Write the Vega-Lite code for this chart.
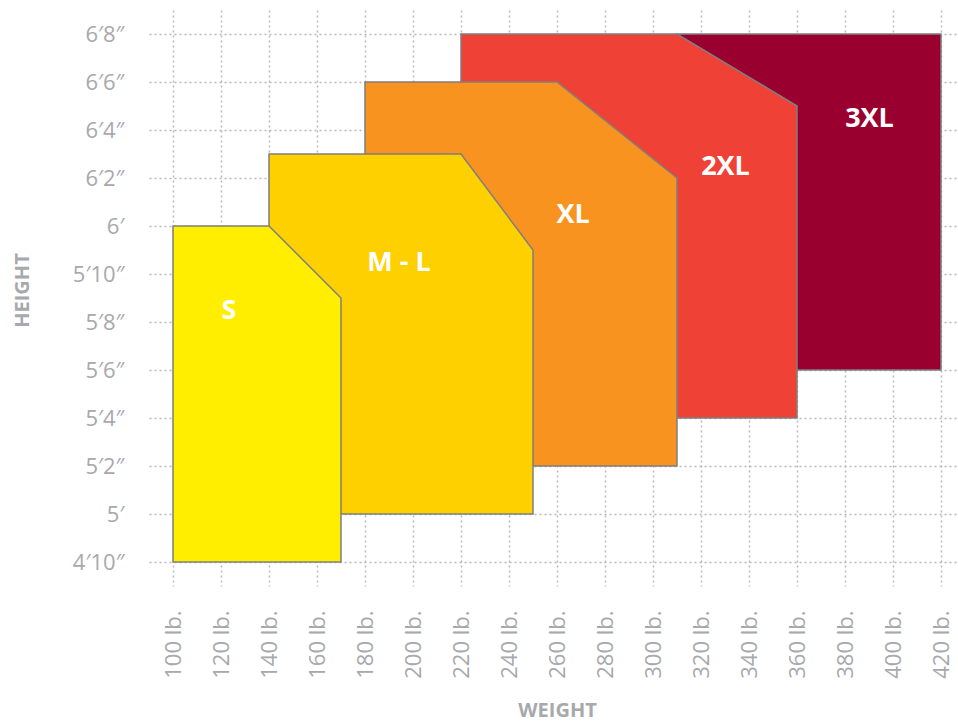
{
  "$schema": "https://vega.github.io/schema/vega-lite/v6.json",
  "autosize": {"type": "none"},
  "width": 809,
  "height": 576,
  "padding": {"left": 149, "top": 10, "right": 0, "bottom": 138},
  "background": "white",
  "config": {
    "view": {"stroke": null},
    "font": "Open Sans",
    "axis": {
      "zindex": 1,
      "grid": true,
      "gridColor": "#b8b8b8",
      "gridDash": [2, 3],
      "gridWidth": 1.5,
      "domain": false,
      "ticks": false,
      "labelColor": "#a7a9ac",
      "labelFont": "Open Sans",
      "labelFontSize": 22,
      "titleColor": "#a7a9ac",
      "titleFont": "Open Sans",
      "titleFontWeight": "bold",
      "titleFontSize": 20
    }
  },
  "datasets": {
    "shapes": [
      {"size": "S", "weight": 100, "top": 72, "bottom": 58},
      {"size": "S", "weight": 140, "top": 72, "bottom": 58},
      {"size": "S", "weight": 170, "top": 69, "bottom": 58},
      {"size": "M - L", "weight": 140, "top": 75, "bottom": 60},
      {"size": "M - L", "weight": 220, "top": 75, "bottom": 60},
      {"size": "M - L", "weight": 250, "top": 71, "bottom": 60},
      {"size": "XL", "weight": 180, "top": 78, "bottom": 62},
      {"size": "XL", "weight": 260, "top": 78, "bottom": 62},
      {"size": "XL", "weight": 310, "top": 74, "bottom": 62},
      {"size": "2XL", "weight": 220, "top": 80, "bottom": 64},
      {"size": "2XL", "weight": 310, "top": 80, "bottom": 64},
      {"size": "2XL", "weight": 360, "top": 77, "bottom": 64},
      {"size": "3XL", "weight": 310, "top": 80, "bottom": 66},
      {"size": "3XL", "weight": 420, "top": 80, "bottom": 66}
    ],
    "labels": [
      {"size": "S", "weight": 123.3, "height": 68.46},
      {"size": "M - L", "weight": 194.2, "height": 70.46},
      {"size": "XL", "weight": 266.7, "height": 72.46},
      {"size": "2XL", "weight": 330.2, "height": 74.46},
      {"size": "3XL", "weight": 390.2, "height": 76.46}
    ]
  },
  "encoding": {
    "x": {
      "field": "weight",
      "type": "quantitative",
      "scale": {"domain": [90, 427.083], "nice": false, "zero": false},
      "axis": {
        "values": [100, 120, 140, 160, 180, 200, 220, 240, 260, 280, 300, 320, 340, 360, 380, 400, 420],
        "labelExpr": "datum.value + ' lb.'",
        "labelAngle": -90,
        "labelPadding": 24,
        "title": "WEIGHT",
        "titleX": 408,
        "titleY": 124,
        "titleBaseline": "middle",
        "titleAlign": "center"
      }
    },
    "y": {
      "field": "top",
      "type": "quantitative",
      "scale": {"domain": [57, 81], "nice": false, "zero": false},
      "axis": {
        "values": [58, 60, 62, 64, 66, 68, 70, 72, 74, 76, 78, 80],
        "labelExpr": "floor(datum.value / 12) + '′' + (datum.value % 12 == 0 ? '' : (datum.value % 12) + '″')",
        "labelPadding": 25,
        "title": "HEIGHT",
        "titleX": -127,
        "titleY": 280,
        "titleAngle": -90,
        "titleBaseline": "middle",
        "titleAlign": "center"
      }
    }
  },
  "layer": [
    {
      "data": {"name": "shapes"},
      "transform": [{"filter": "datum.size == '3XL'"}],
      "mark": {"type": "area", "fill": "#990030", "stroke": "#7f7f7f", "strokeWidth": 1.5, "fillOpacity": 1},
      "encoding": {"y2": {"field": "bottom"}}
    },
    {
      "data": {"name": "shapes"},
      "transform": [{"filter": "datum.size == '2XL'"}],
      "mark": {"type": "area", "fill": "#ef4136", "stroke": "#7f7f7f", "strokeWidth": 1.5, "fillOpacity": 1},
      "encoding": {"y2": {"field": "bottom"}}
    },
    {
      "data": {"name": "shapes"},
      "transform": [{"filter": "datum.size == 'XL'"}],
      "mark": {"type": "area", "fill": "#f7931e", "stroke": "#7f7f7f", "strokeWidth": 1.5, "fillOpacity": 1},
      "encoding": {"y2": {"field": "bottom"}}
    },
    {
      "data": {"name": "shapes"},
      "transform": [{"filter": "datum.size == 'M - L'"}],
      "mark": {"type": "area", "fill": "#ffd000", "stroke": "#7f7f7f", "strokeWidth": 1.5, "fillOpacity": 1},
      "encoding": {"y2": {"field": "bottom"}}
    },
    {
      "data": {"name": "shapes"},
      "transform": [{"filter": "datum.size == 'S'"}],
      "mark": {"type": "area", "fill": "#ffee00", "stroke": "#7f7f7f", "strokeWidth": 1.5, "fillOpacity": 1},
      "encoding": {"y2": {"field": "bottom"}}
    },
    {
      "data": {"name": "labels"},
      "mark": {"type": "text", "color": "white", "font": "Open Sans", "fontWeight": "bold", "fontSize": 27, "align": "center", "baseline": "middle"},
      "encoding": {
        "y": {"field": "height", "type": "quantitative"},
        "text": {"field": "size"}
      }
    }
  ]
}
